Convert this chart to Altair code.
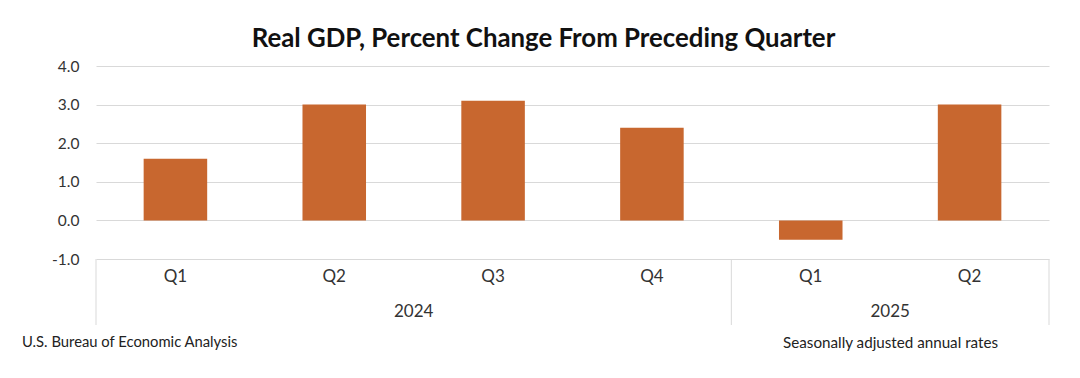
import altair as alt
import pandas as pd

quarters = ["Q1", "Q2", "Q3", "Q4", "Q1", "Q2"]
years = ["2024", "2024", "2024", "2024", "2025", "2025"]
values = [1.6, 3.0, 3.1, 2.4, -0.5, 3.0]
y_ticks = [-1.0, 0.0, 1.0, 2.0, 3.0, 4.0]

W, H = 953, 193
FONT = "Lato"
BAR = "#C8672F"
GRID = "#D9D9D9"

df = pd.DataFrame({"pos": list(range(len(values))), "quarter": quarters,
                   "year": years, "value": values})
yr = df.groupby("year", as_index=False)["pos"].agg(["mean", "min", "max"]).reset_index()
yr_df = pd.DataFrame({"year": yr["year"], "mid": yr["mean"]})
sep_df = pd.DataFrame({"b": [-0.5] + [m + 0.5 for m in yr["max"]]})

xs = alt.Scale(domain=[-0.5, len(values) - 0.5], nice=False, zero=False)
ys = alt.Scale(domain=[-1, 4], nice=False, zero=False)

bars = alt.Chart(df).transform_calculate(
    x1="datum.pos - 0.2", x2="datum.pos + 0.2", zero="0"
).mark_bar(color=BAR).encode(
    x=alt.X("x1:Q", scale=xs, axis=None),
    x2="x2:Q",
    y=alt.Y("value:Q", scale=ys, axis=alt.Axis(
        values=y_ticks, grid=True, gridColor=GRID, gridWidth=1,
        labelExpr="replace(format(datum.value, '.1f'), '\u2212', '-')",
        domain=False, ticks=False, labelFont=FONT, labelFontSize=15.5,
        labelColor="#333333", labelPadding=17, title=None)),
    y2="zero:Q",
)

qlab = alt.Chart(df).mark_text(font=FONT, fontSize=17, color="#333333",
                               baseline="middle").encode(
    x=alt.X("pos:Q", scale=xs, axis=None),
    y=alt.value(211),
    text="quarter:N",
)

ylab = alt.Chart(yr_df).mark_text(font=FONT, fontSize=17, color="#333333",
                                  baseline="middle").encode(
    x=alt.X("mid:Q", scale=xs, axis=None),
    y=alt.value(246),
    text="year:N",
)

seps = alt.Chart(sep_df).mark_rule(color=GRID, strokeWidth=1).encode(
    x=alt.X("b:Q", scale=xs, axis=None),
    y=alt.value(H),
    y2=alt.value(H + 66),
)

foot_df = pd.DataFrame({"t": ["U.S. Bureau of Economic Analysis"]})
foot_l = alt.Chart(foot_df).mark_text(font=FONT, fontSize=14.8, color="#222222",
                                      align="left", baseline="middle").encode(
    x=alt.value(22 - 96), y=alt.value(343 - 66), text="t:N")
foot_df2 = pd.DataFrame({"t": ["Seasonally adjusted annual rates"]})
foot_r = alt.Chart(foot_df2).mark_text(font=FONT, fontSize=15.2, color="#222222",
                                       align="right", baseline="middle").encode(
    x=alt.value(998 - 96), y=alt.value(343 - 66), text="t:N")

chart = alt.layer(seps, bars, qlab, ylab, foot_l, foot_r).properties(
    width=W, height=H,
    autosize=alt.AutoSizeParams(type="none"),
    padding={"left": 88, "top": 58, "right": 23, "bottom": 111},
    title=alt.TitleParams("Real GDP, Percent Change From Preceding Quarter",
                          font=FONT, fontSize=25.8, fontWeight="bold",
                          color="#111111", anchor="middle", dx=-29, offset=6),
).configure_view(stroke=None)

chart.save("out.html", embed_options={"renderer": "svg", "actions": False})
